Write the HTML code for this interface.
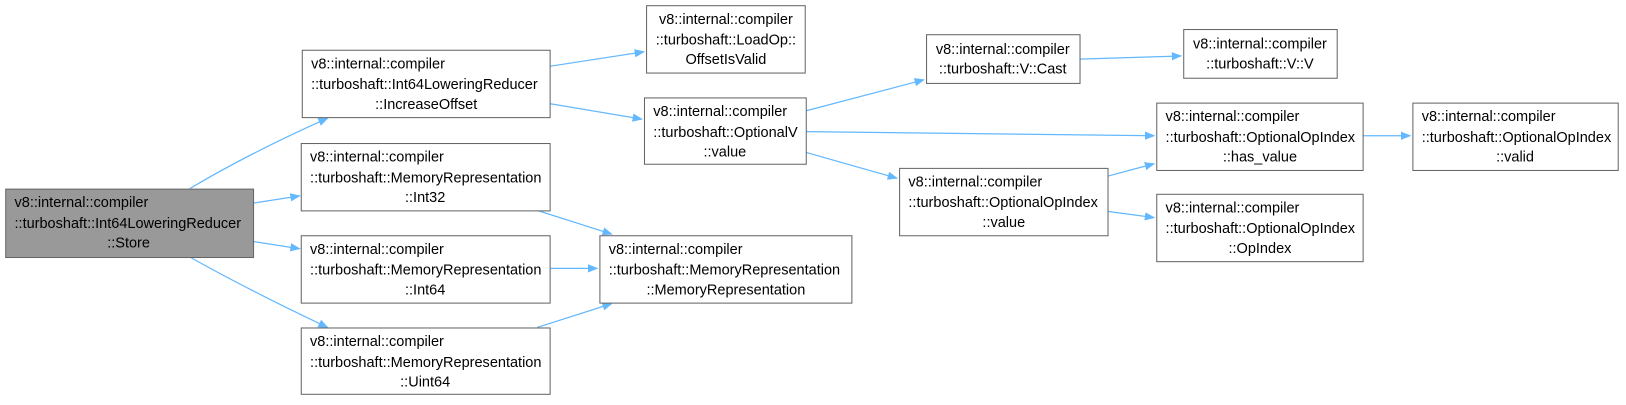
<!DOCTYPE html>
<html><head><meta charset="utf-8"><style>
html,body{margin:0;padding:0;background:#fff;}
svg text{font-family:"Liberation Sans",sans-serif;font-size:14px;fill:#000;}
</style></head><body>
<svg width="1626" height="400" viewBox="0 0 1568 386" preserveAspectRatio="none" xmlns="http://www.w3.org/2000/svg">
<defs><marker id="a" markerWidth="10" markerHeight="8" refX="9" refY="4" orient="auto" markerUnits="userSpaceOnUse"><path d="M0,0 L10,4 L0,8 z" fill="#63b8ff"/></marker></defs>
<g stroke="#63b8ff" stroke-width="1.2" fill="none" marker-end="url(#a)">
<path d="M183,182 Q240,148 316,114"/>
<path d="M244,196 L289,189"/>
<path d="M244,233 L289,240"/>
<path d="M183,248 Q240,280 316,316"/>
<path d="M530,64 L621,50"/>
<path d="M530,100 L619,115"/>
<path d="M518,203 L590,226"/>
<path d="M530,259 L576,259"/>
<path d="M518,316 L590,293"/>
<path d="M777,107 L891,77"/>
<path d="M777,127 L1113,131"/>
<path d="M777,147 L865,172"/>
<path d="M1041,57 L1139,54"/>
<path d="M1068,170 L1113,158"/>
<path d="M1068,204 L1113,210"/>
<path d="M1314,131 L1360,131"/>
</g>
<g stroke="#666" stroke-width="1" fill="#fff">
<rect x="5.5" y="182.5" width="239" height="66" fill="#999"/>
<rect x="291.5" y="48.5" width="239" height="65"/>
<rect x="290.5" y="138.5" width="240" height="65"/>
<rect x="290.5" y="227.5" width="240" height="65"/>
<rect x="290.5" y="316.5" width="240" height="64"/>
<rect x="623.5" y="5.5" width="153" height="65"/>
<rect x="621.5" y="94.5" width="156" height="64"/>
<rect x="578.5" y="227.5" width="243" height="65"/>
<rect x="893.5" y="33.5" width="148" height="47"/>
<rect x="1141.5" y="28.5" width="148" height="47"/>
<rect x="1115.5" y="99.5" width="199" height="65"/>
<rect x="867.5" y="162.5" width="201" height="65"/>
<rect x="1115.5" y="187.5" width="199" height="65"/>
<rect x="1362.5" y="99.5" width="198" height="65"/>
</g>
<text x="14" y="200">v8::internal::compiler</text>
<text x="14" y="220">::turboshaft::Int64LoweringReducer</text>
<text x="124" y="239" text-anchor="middle">::Store</text>

<text x="300" y="66">v8::internal::compiler</text>
<text x="300" y="86">::turboshaft::Int64LoweringReducer</text>
<text x="411" y="105" text-anchor="middle">::IncreaseOffset</text>

<text x="299" y="156">v8::internal::compiler</text>
<text x="299" y="176">::turboshaft::MemoryRepresentation</text>
<text x="410" y="195" text-anchor="middle">::Int32</text>

<text x="299" y="245">v8::internal::compiler</text>
<text x="299" y="265">::turboshaft::MemoryRepresentation</text>
<text x="410" y="284" text-anchor="middle">::Int64</text>

<text x="299" y="334">v8::internal::compiler</text>
<text x="299" y="354">::turboshaft::MemoryRepresentation</text>
<text x="410" y="373" text-anchor="middle">::Uint64</text>

<text x="700" y="23" text-anchor="middle">v8::internal::compiler</text>
<text x="700" y="43" text-anchor="middle">::turboshaft::LoadOp::</text>
<text x="700" y="62" text-anchor="middle">OffsetIsValid</text>

<text x="630" y="112">v8::internal::compiler</text>
<text x="630" y="132">::turboshaft::OptionalV</text>
<text x="699" y="151" text-anchor="middle">::value</text>

<text x="587" y="245">v8::internal::compiler</text>
<text x="587" y="265">::turboshaft::MemoryRepresentation</text>
<text x="700" y="284" text-anchor="middle">::MemoryRepresentation</text>

<text x="967" y="52" text-anchor="middle">v8::internal::compiler</text>
<text x="967" y="71" text-anchor="middle">::turboshaft::V::Cast</text>

<text x="1215" y="47" text-anchor="middle">v8::internal::compiler</text>
<text x="1215" y="66" text-anchor="middle">::turboshaft::V::V</text>

<text x="1124" y="117">v8::internal::compiler</text>
<text x="1124" y="137">::turboshaft::OptionalOpIndex</text>
<text x="1215" y="156" text-anchor="middle">::has_value</text>

<text x="876" y="180">v8::internal::compiler</text>
<text x="876" y="200">::turboshaft::OptionalOpIndex</text>
<text x="968" y="219" text-anchor="middle">::value</text>

<text x="1124" y="205">v8::internal::compiler</text>
<text x="1124" y="225">::turboshaft::OptionalOpIndex</text>
<text x="1215" y="244" text-anchor="middle">::OpIndex</text>

<text x="1371" y="117">v8::internal::compiler</text>
<text x="1371" y="137">::turboshaft::OptionalOpIndex</text>
<text x="1461" y="156" text-anchor="middle">::valid</text>
</svg>
</body></html>
